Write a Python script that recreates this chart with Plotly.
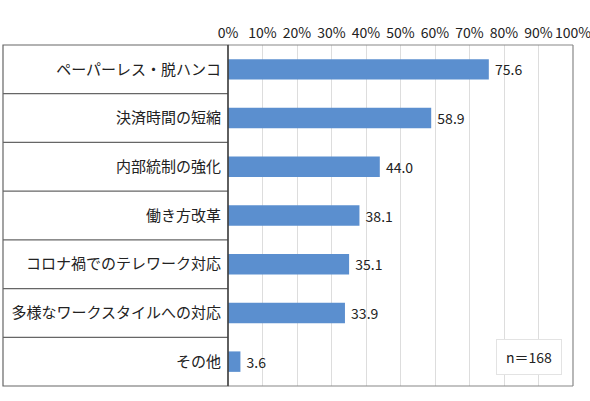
import plotly.graph_objects as go

categories = ["ペーパーレス・脱ハンコ", "決済時間の短縮", "内部統制の強化", "働き方改革",
              "コロナ禍でのテレワーク対応", "多様なワークスタイルへの対応", "その他"]
values = [75.6, 58.9, 44.0, 38.1, 35.1, 33.9, 3.6]
tick_vals = [0, 10, 20, 30, 40, 50, 60, 70, 80, 90, 100]
tick_text = [f"{v}%" for v in tick_vals]
note = "n＝168"

W, H = 590, 401
L, R, T, B = 228, 17, 45, 15
pw = W - L - R
ph = H - T - B
FONT = "Noto Sans CJK JP"

fig = go.Figure(go.Bar(
    y=categories, x=values, orientation="h",
    marker=dict(color="#5b8fcf", line=dict(width=0)),
    width=0.42,
    text=[f" {v:.1f}" for v in values], textposition="outside",
    textfont=dict(size=14, color="#222", family=FONT),
    cliponaxis=False,
    hoverinfo="skip",
))

shapes = []
left_x = (3 - L) / pw
n = len(categories)
shapes.append(dict(type="rect", xref="paper", yref="paper", x0=left_x, x1=0, y0=0, y1=1,
                   line=dict(color="#666", width=1.2)))
for k in range(1, n):
    shapes.append(dict(type="line", xref="paper", yref="paper", x0=left_x, x1=0,
                       y0=k / n, y1=k / n, line=dict(color="#666", width=1.2)))
shapes.append(dict(type="line", xref="paper", yref="paper", x0=0, x1=1, y0=1, y1=1,
                   line=dict(color="#888", width=1.2)))
shapes.append(dict(type="line", xref="paper", yref="paper", x0=1, x1=1, y0=0, y1=1,
                   line=dict(color="#888", width=1.2)))
shapes.append(dict(type="line", xref="paper", yref="paper", x0=0, x1=1, y0=0, y1=0,
                   line=dict(color="#888", width=1.2)))
shapes.append(dict(type="line", xref="paper", yref="paper", x0=0, x1=0, y0=0, y1=1,
                   line=dict(color="#333", width=1.2)))

fig.update_layout(
    width=W, height=H,
    margin=dict(l=L, r=R, t=T, b=B, autoexpand=False),
    paper_bgcolor="white", plot_bgcolor="white",
    showlegend=False,
    font=dict(family=FONT, size=14, color="#222"),
    xaxis=dict(side="top", range=[0, 100], tickvals=tick_vals, ticktext=tick_text,
               showgrid=True, gridcolor="#dddddd", gridwidth=1, zeroline=False,
               showline=False, ticks="", tickfont=dict(size=14, color="#222"),
               ticklabelstandoff=3, ticklabeloverflow="allow",
               automargin=False, fixedrange=True),
    yaxis=dict(showgrid=False, zeroline=False, showline=False,
               ticks="", tickfont=dict(size=15, color="#222"), ticklabelstandoff=6,
               range=[n - 0.5, -0.5], automargin=False, fixedrange=True),
    shapes=shapes,
    annotations=[dict(xref="paper", yref="paper",
                      x=(529 - L) / pw, y=(H - B - 357) / ph,
                      xanchor="center", yanchor="middle",
                      text=note, showarrow=False,
                      font=dict(size=14, color="#222", family=FONT),
                      bgcolor="white", bordercolor="#e3e3e3", borderwidth=1,
                      borderpad=8, width=48, height=18)],
)

fig.write_html("out.html", config={"displayModeBar": False, "staticPlot": True},
               post_script="document.body.style.margin='0';document.body.style.overflow='hidden';")
